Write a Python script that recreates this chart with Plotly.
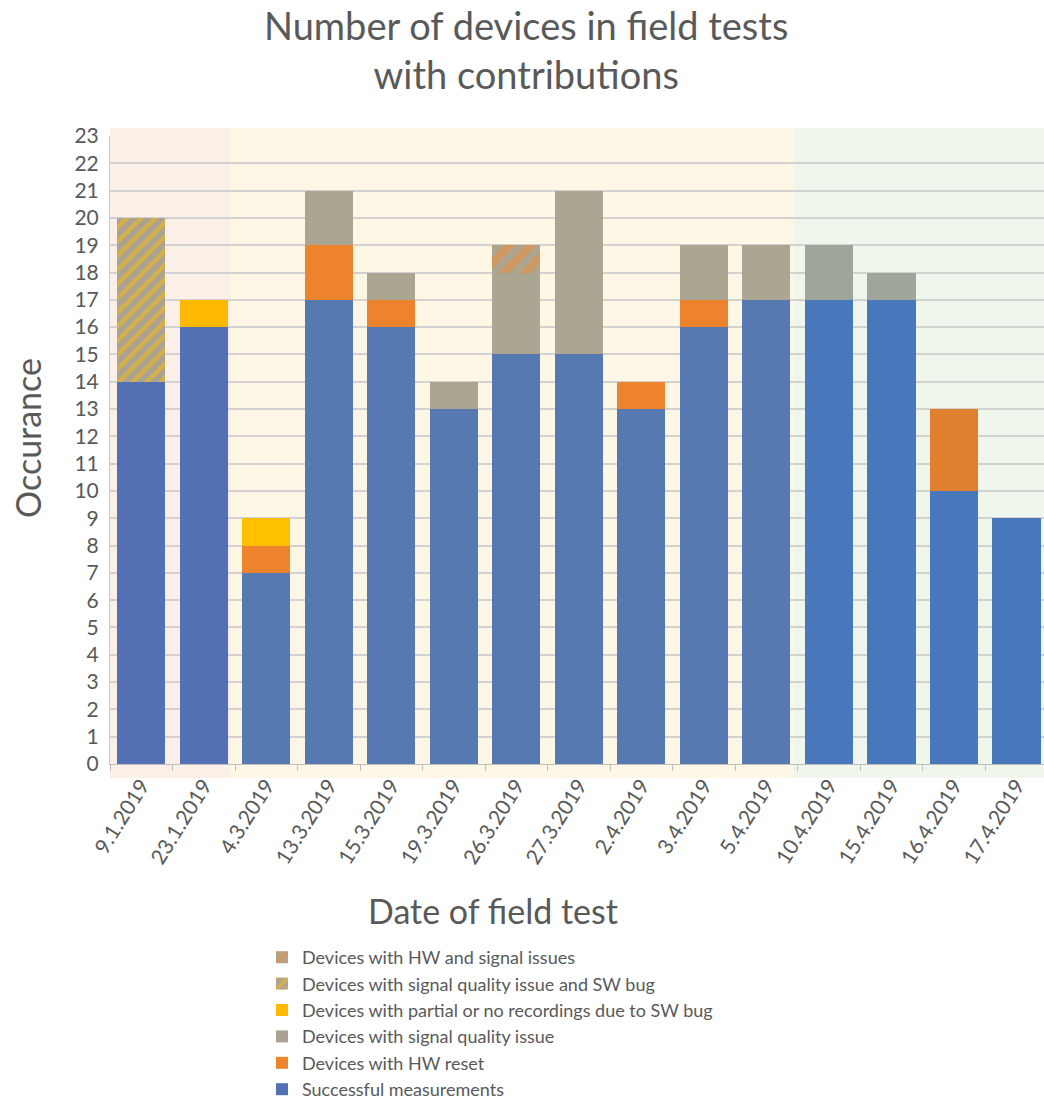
import plotly.graph_objects as go

# Field test dates (category axis)
dates = ["9.1.2019", "23.1.2019", "4.3.2019", "13.3.2019", "15.3.2019",
         "19.3.2019", "26.3.2019", "27.3.2019", "2.4.2019", "3.4.2019",
         "5.4.2019", "10.4.2019", "15.4.2019", "16.4.2019", "17.4.2019"]

# Device counts per category, stacked bottom to top
successful = [14, 16, 7, 17, 16, 13, 15, 15, 13, 16, 17, 17, 17, 10, 9]
hw_reset = [0, 0, 1, 2, 1, 0, 0, 0, 1, 1, 0, 0, 0, 3, 0]
signal_issue = [0, 0, 0, 2, 1, 1, 3, 6, 0, 2, 2, 2, 1, 0, 0]
sw_bug = [0, 1, 1, 0, 0, 0, 0, 0, 0, 0, 0, 0, 0, 0, 0]
signal_and_sw = [6, 0, 0, 0, 0, 0, 0, 0, 0, 0, 0, 0, 0, 0, 0]
hw_and_signal = [0, 0, 0, 0, 0, 0, 1, 0, 0, 0, 0, 0, 0, 0, 0]

# Test campaign phases as (first index, last index, fill colour)
phases = [(0, 1, "#fbf0e8"), (2, 10, "#fff7e5"), (11, 14, "#eff6ec")]

# Bar tints per phase
phase_of = []
for i in range(len(dates)):
    for k, (a, b, _) in enumerate(phases):
        if a <= i <= b:
            phase_of.append(k)
blue_by_phase = ["#5470b4", "#5579b0", "#4878bb"]
orange_by_phase = ["#ee832e", "#ee832e", "#e0802f"]
gray_by_phase = ["#aba392", "#aba692", "#9ea59a"]
yellow_by_phase = ["#ffb900", "#ffc000", "#ffc000"]

def tint(table):
    return [table[p] for p in phase_of]

text_col = "#595959"
font_family = "Lato, 'Open Sans', sans-serif"

# plot-area geometry in pixels, used to place free text in paper units
L, T, W, H = 110, 136, 934, 628

def px(x):
    return (x - L) / W

def py(y):
    return (T + H - y) / H

fig = go.Figure()
fig.add_bar(x=dates, y=successful, name="Successful measurements",
            marker=dict(color=tint(blue_by_phase), line_width=0))
fig.add_bar(x=dates, y=hw_reset, name="Devices with HW reset",
            marker=dict(color=tint(orange_by_phase), line_width=0))
fig.add_bar(x=dates, y=signal_issue, name="Devices with signal quality issue",
            marker=dict(color=tint(gray_by_phase), line_width=0))
fig.add_bar(x=dates, y=sw_bug, name="Devices with partial or no recordings due to SW bug",
            marker=dict(color=tint(yellow_by_phase), line_width=0))
fig.add_bar(x=dates, y=signal_and_sw, name="Devices with signal quality issue and SW bug",
            marker=dict(color="#aba392", line_width=0,
                        pattern=dict(shape="/", fgcolor="#ffbc00", bgcolor="#aba392",
                                     size=10, solidity=0.45, fillmode="overlay")))
fig.add_bar(x=dates, y=hw_and_signal, name="Devices with HW and signal issues",
            marker=dict(color="#aca690", line_width=0,
                        pattern=dict(shape="/", fgcolor="#f08a30", bgcolor="#aca690",
                                     size=15, solidity=0.55, fillmode="overlay")))

for a, b, col in phases:
    fig.add_shape(type="rect", xref="x", yref="paper",
                  x0=a - 0.56, x1=b + 0.44, y0=py(778), y1=py(128),
                  fillcolor=col, line_width=0, layer="below")

fig.add_annotation(text="Number of devices in field tests<br>with contributions",
                   xref="paper", yref="paper", x=px(526), y=py(49),
                   xanchor="center", yanchor="middle", showarrow=False,
                   font=dict(size=38, color=text_col, family=font_family))
fig.add_annotation(text="Date of field test", xref="paper", yref="paper",
                   x=px(493), y=py(910), xanchor="center", yanchor="middle",
                   showarrow=False,
                   font=dict(size=34, color=text_col, family=font_family))
fig.add_annotation(text="Occurance", xref="paper", yref="paper",
                   x=px(27), y=py(438), xanchor="center", yanchor="middle",
                   showarrow=False, textangle=-90,
                   font=dict(size=34, color=text_col, family=font_family))

fig.update_layout(
    width=1044, height=1102,
    barmode="stack", bargap=0.23,
    paper_bgcolor="white", plot_bgcolor="rgba(0,0,0,0)",
    margin=dict(l=L, r=0, t=T, b=1102 - T - H, autoexpand=False),
    font=dict(family=font_family, color=text_col),
    legend=dict(traceorder="reversed", orientation="v",
                x=px(262), y=py(939), xanchor="left", yanchor="top",
                font=dict(size=18, color=text_col, family=font_family),
                bgcolor="rgba(0,0,0,0)", itemwidth=30, tracegroupgap=0),
    xaxis=dict(type="category", range=[-0.5, 14.44], showgrid=False,
               showline=True, linecolor="#bfbfbf", linewidth=1,
               ticks="outside", tickson="boundaries", ticklen=6, tickcolor="#bfbfbf",
               tickangle=-58, tickfont=dict(size=21, color=text_col)),
    yaxis=dict(range=[0, 23], dtick=1, showgrid=True, gridcolor="#d2d2d2",
               gridwidth=2, zeroline=False, showline=True, linecolor="#c8c8c8",
               linewidth=1, ticks="", ticklabelstandoff=6,
               tickfont=dict(size=21, color=text_col)),
)

fig.write_html("out.html")
